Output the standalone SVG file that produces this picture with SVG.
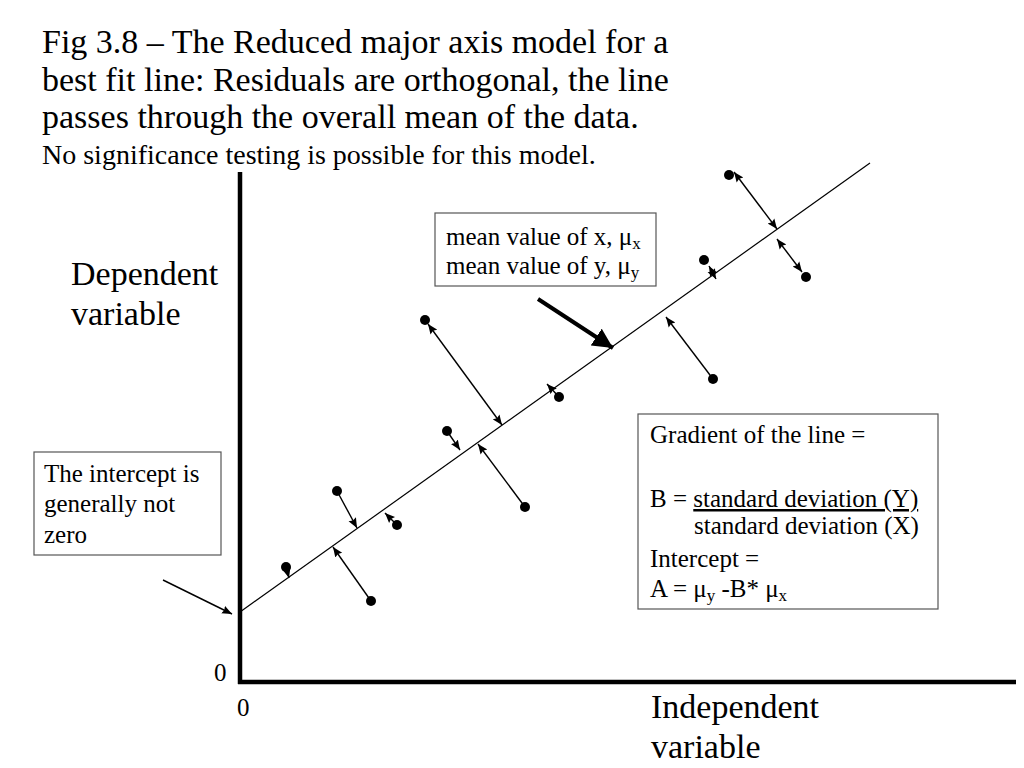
<svg xmlns="http://www.w3.org/2000/svg" width="1024" height="768" viewBox="0 0 1024 768">
<defs>
<style>
text{font-family:"Liberation Serif","Times New Roman",serif;fill:#000}
.t34{font-size:34px}
.t28{font-size:28px}
.t25{font-size:25px}
.box{fill:#fff;stroke:#555;stroke-width:1.2}
.res{stroke:#000;stroke-width:1.4;fill:none}
.pt{fill:#000}
.sub{font-size:17px}
</style>
<marker id="ah" viewBox="0 0 10 10" refX="10" refY="5" markerWidth="10" markerHeight="10" markerUnits="userSpaceOnUse" orient="auto-start-reverse">
<path d="M0,0.8 L10,5 L0,9.2 L1.5,5 z" fill="#000"/>
</marker>
<marker id="ahb" viewBox="0 0 10 10" refX="10" refY="5" markerWidth="5" markerHeight="5" orient="auto">
<path d="M0,0 L10,5 L0,10 z" fill="#000"/>
</marker>
</defs>
<rect width="1024" height="768" fill="#fff"/>
<g id="title">
<text class="t34" x="42" y="53">Fig 3.8 – The Reduced major axis model for a</text>
<text class="t34" x="42" y="91">best fit line: Residuals are orthogonal, the line</text>
<text class="t34" x="42" y="128">passes through the overall mean of the data.</text>
<text class="t28" x="42" y="164">No significance testing is possible for this model.</text>
</g>
<g id="axes">
<line x1="240" y1="172" x2="240" y2="684" stroke="#000" stroke-width="4.5"/>
<line x1="238" y1="682" x2="1016" y2="682" stroke="#000" stroke-width="4.5"/>
<text class="t25" x="214" y="681">0</text>
<text class="t25" x="237" y="716">0</text>
</g>
<g id="fit-line">
<line x1="240" y1="612" x2="870" y2="163" stroke="#000" stroke-width="1.2"/>
</g>
<g id="points">
<circle class="pt" cx="729" cy="175" r="5"/>
<circle class="pt" cx="806" cy="277" r="5"/>
<circle class="pt" cx="704" cy="260" r="5"/>
<circle class="pt" cx="713" cy="379" r="5"/>
<circle class="pt" cx="425" cy="320" r="5"/>
<circle class="pt" cx="559" cy="397" r="5"/>
<circle class="pt" cx="447" cy="431" r="5"/>
<circle class="pt" cx="525" cy="507" r="5"/>
<circle class="pt" cx="337" cy="491" r="5"/>
<circle class="pt" cx="397" cy="525" r="5"/>
<circle class="pt" cx="286" cy="567" r="5"/>
<circle class="pt" cx="371" cy="601" r="5"/>
</g>
<g id="connectors">
<line class="res" x1="734" y1="172" x2="777" y2="229" marker-start="url(#ah)" marker-end="url(#ah)"/>
<line class="res" x1="777" y1="239" x2="802" y2="272" marker-start="url(#ah)" marker-end="url(#ah)"/>
<line class="res" x1="709" y1="266" x2="716" y2="279" marker-start="url(#ah)" marker-end="url(#ah)"/>
<line class="res" x1="713" y1="379" x2="666" y2="317" marker-end="url(#ah)"/>
<line class="res" x1="428" y1="324" x2="502" y2="425" marker-start="url(#ah)" marker-end="url(#ah)"/>
<line class="res" x1="559" y1="397" x2="547" y2="384" marker-end="url(#ah)"/>
<line class="res" x1="447" y1="431" x2="460" y2="450" marker-end="url(#ah)"/>
<line class="res" x1="525" y1="507" x2="478" y2="444" marker-end="url(#ah)"/>
<line class="res" x1="337" y1="491" x2="357" y2="528" marker-end="url(#ah)"/>
<line class="res" x1="397" y1="525" x2="385" y2="513" marker-end="url(#ah)"/>
<line class="res" x1="286" y1="567" x2="289" y2="578" marker-end="url(#ah)"/>
<line class="res" x1="371" y1="601" x2="333" y2="547" marker-end="url(#ah)"/>
<line class="res" x1="163" y1="580" x2="232" y2="614" marker-end="url(#ah)"/>
<line x1="538" y1="299" x2="613" y2="348" stroke="#000" stroke-width="4" marker-end="url(#ahb)"/>
</g>
<g id="mean-box">
<rect class="box" x="435" y="213" width="221" height="73"/>
<text class="t25" x="446" y="245">mean value of x, μ<tspan class="sub" dy="4">x</tspan></text>
<text class="t25" x="446" y="274">mean value of y, μ<tspan class="sub" dy="4">y</tspan></text>
</g>
<g id="dependent-label">
<text class="t34" x="71" y="285">Dependent</text>
<text class="t34" x="71" y="325">variable</text>
</g>
<g id="intercept-box">
<rect class="box" x="34" y="452" width="187" height="103"/>
<text class="t25" x="44" y="482">The intercept is</text>
<text class="t25" x="44" y="512">generally not</text>
<text class="t25" x="44" y="543">zero</text>
</g>
<g id="gradient-box">
<rect class="box" x="638" y="414" width="300" height="195"/>
<text class="t25" x="650" y="443">Gradient of the line =</text>
<text class="t25" x="650" y="507">B = <tspan text-decoration="underline">standard deviation (Y)</tspan></text>
<text class="t25" x="694" y="534">standard deviation (X)</text>
<text class="t25" x="650" y="567">Intercept =</text>
<text class="t25" x="650" y="597">A = μ<tspan class="sub" dy="4">y</tspan><tspan dy="-4"> -B* μ</tspan><tspan class="sub" dy="4">x</tspan></text>
</g>
<g id="independent-label">
<text class="t34" x="651" y="718">Independent</text>
<text class="t34" x="651" y="758">variable</text>
</g>
</svg>
